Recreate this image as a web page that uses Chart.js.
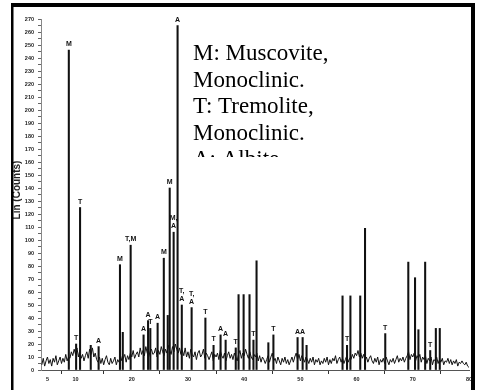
<!DOCTYPE html>
<html>
<head>
<meta charset="utf-8">
<script src="https://cdn.jsdelivr.net/npm/chart.js@4/dist/chart.umd.min.js"></script>
<style>
  html, body { margin: 0; padding: 0; background: #fff; }
  #wrap { position: relative; width: 477px; height: 390px; }
</style>
</head>
<body>
<div id="wrap"><canvas id="xrd" width="477" height="390"></canvas></div>
<script>
// measured scan, sampled every 0.25 deg 2-theta from 4 to 80
const twoThetaStart = 4;
const twoThetaStep = 0.25;
const backgroundCounts = [
  4, 9, 3, 7, 10, 5, 8, 3, 9, 6, 11, 4, 7, 10, 5, 9, 6, 12, 7, 10,
  9, 14, 11, 16, 12, 17, 10, 15, 9, 12, 7, 11, 14, 9, 16, 12, 17, 10, 13, 8,
  6, 10, 5, 9, 4, 8, 11, 6, 4, 9, 5, 7, 10, 4, 8, 6, 11, 7, 9, 12,
  6, 11, 8, 13, 10, 15, 9, 12, 14, 10, 17, 12, 15, 11, 18, 13, 10, 14, 16, 12,
  13, 17, 10, 15, 12, 18, 14, 11, 16, 13, 19, 15, 12, 18, 14, 20, 16, 13, 17, 12,
  15, 11, 17, 10, 14, 9, 16, 12, 10, 14, 8, 13, 15, 10, 12, 16, 9, 13, 11, 8,
  11, 14, 7, 12, 10, 13, 8, 15, 11, 9, 13, 7, 11, 14, 9, 12, 8, 13, 10, 7,
  12, 15, 9, 13, 11, 16, 12, 9, 14, 10, 8, 12, 10, 13, 7, 11, 6, 10, 8, 5,
  8, 11, 6, 10, 13, 7, 9, 5, 10, 7, 4, 9, 6, 10, 5, 8, 4, 7, 10, 6,
  10, 13, 8, 12, 7, 11, 9, 6, 10, 8, 5, 9, 6, 10, 4, 8, 6, 9, 4, 7,
  5, 9, 6, 10, 4, 8, 5, 9, 7, 11, 5, 8, 10, 6, 9, 5, 8, 11, 6, 9,
  8, 12, 9, 13, 11, 15, 10, 13, 9, 12, 7, 10, 6, 9, 11, 7, 5, 9, 6, 10,
  4, 8, 6, 9, 5, 10, 7, 4, 8, 6, 9, 5, 8, 11, 6, 9, 7, 10, 6, 9,
  11, 14, 8, 12, 10, 13, 7, 11, 9, 12, 6, 10, 8, 11, 5, 9, 7, 10, 4, 8,
  7, 10, 5, 8, 6, 9, 4, 7, 6, 9, 5, 8, 4, 7, 5, 8, 3, 6, 5, 7,
  5, 4, 6, 3, 2,
];

// reflections
const peakAngles = [
  8.8, 10.1, 10.8, 12.7, 14.1, 17.9, 18.4, 19.8, 22.1, 22.9,
  23.3, 24.6, 25.7, 26.4, 26.75, 27.45, 28.15, 28.9, 30.65, 33.1,
  34.55, 35.8, 36.7, 38.5, 39.0, 39.9, 40.95, 41.65, 42.2, 44.3,
  45.2, 49.5, 50.4, 51.1, 57.5, 58.3, 58.9, 60.65, 61.5, 65.1,
  69.2, 70.4, 71.0, 72.2, 73.1, 74.1, 74.8,
];
const peakCounts = [
  246, 20, 125, 19, 18, 81, 29, 96, 27, 38,
  32, 36, 86, 42, 140, 106, 265, 50, 48, 40,
  19, 27, 23, 17, 58, 58, 58, 23, 84, 21,
  27, 25, 25, 19, 57, 19, 57, 57, 109, 28,
  83, 71, 31, 83, 15, 32, 32,
];
const peakLabels = [
  "M", "T", "T", "", "A", "M", "", "T,M", "A", "A",
  "T", "A", "M", "", "M", "M,\nA", "A", "T,\nA", "T,\nA", "T",
  "T", "A", "A", "T", "", "", "", "T", "", "",
  "T", "A", "A", "", "", "T", "", "", "", "T",
  "", "", "", "", "T", "", "",
];

const xTickValues = [5, 10, 20, 30, 40, 50, 60, 70, 80];
const legendLines = ["M: Muscovite,", "Monoclinic.", "T: Tremolite,", "Monoclinic.", "A: Albite"];

const noisePoints = backgroundCounts.map((c, i) => ({ x: twoThetaStart + i * twoThetaStep, y: c }));
const peakPoints = peakAngles.map((a, i) => ({ x: a, y: peakCounts[i] }));

const decorPlugin = {
  id: "decor",
  afterDatasetsDraw(chart) {
    const { ctx } = chart;
    const xs = chart.scales.x;
    const ys = chart.scales.y;
    ctx.save();
    ctx.fillStyle = "#111";
    ctx.font = "bold 7px 'Liberation Sans', Arial, sans-serif";
    ctx.textAlign = "center";
    ctx.textBaseline = "alphabetic";
    peakLabels.forEach((label, i) => {
      if (!label) return;
      const lines = label.split("\n");
      const px = xs.getPixelForValue(peakAngles[i]);
      let py = ys.getPixelForValue(peakCounts[i]) - 4;
      for (let k = lines.length - 1; k >= 0; k--) {
        ctx.fillText(lines[k], px, py);
        py -= 8;
      }
    });

    // y axis title
    ctx.translate(17.5, 190);
    ctx.rotate(-Math.PI / 2);
    ctx.font = "bold 10px 'Liberation Sans', Arial, sans-serif";
    ctx.textBaseline = "middle";
    ctx.fillStyle = "#222";
    ctx.fillText("Lin (Counts)", 0, 0);
    ctx.restore();
  },
  afterDraw(chart) {
    const { ctx } = chart;
    ctx.save();
    // frame of the scanned figure
    ctx.fillStyle = "#000";
    ctx.fillRect(11, 3, 464, 4);
    ctx.fillRect(11, 3, 2.5, 387);
    ctx.fillRect(471, 3, 4, 387);

    // phase key, cut off at the bottom like the original box
    ctx.beginPath();
    ctx.rect(185, 8, 286, 149);
    ctx.clip();
    ctx.fillStyle = "#000";
    ctx.font = "23px 'Liberation Serif', 'Times New Roman', serif";
    ctx.textAlign = "left";
    ctx.textBaseline = "alphabetic";
    legendLines.forEach((line, k) => {
      ctx.fillText(line, 193, 60 + k * 26.5);
    });
    ctx.restore();
  },
};

new Chart(document.getElementById("xrd"), {
  type: "bar",
  data: {
    datasets: [
      {
        type: "line",
        data: noisePoints,
        borderColor: "#111",
        borderWidth: 1,
        pointRadius: 0,
        tension: 0,
        order: 1,
      },
      {
        type: "bar",
        data: peakPoints,
        backgroundColor: "#111",
        barThickness: 1.4,
        order: 2,
      },
    ],
  },
  options: {
    responsive: false,
    animation: false,
    layout: { padding: { top: 19, right: 8, bottom: 6, left: 0 } },
    plugins: {
      legend: { display: false },
      tooltip: { enabled: false },
    },
    scales: {
      x: {
        type: "linear",
        min: 3.85,
        max: 80,
        offset: false,
        grid: { drawOnChartArea: false, tickLength: 4, color: "#333" },
        border: { display: true, color: "#555" },
        ticks: {
          color: "#222",
          font: { size: 5.5, weight: "bold" },
          padding: 2,
          maxRotation: 0,
        },
        afterBuildTicks: (scale) => {
          scale.ticks = xTickValues.map((v) => ({ value: v }));
        },
        afterFit: (scale) => {
          scale.height = 14;
        },
      },
      y: {
        min: 0,
        max: 270,
        grid: { drawOnChartArea: false, tickLength: 3, color: "#666" },
        border: { display: true, color: "#888" },
        ticks: {
          stepSize: 5,
          autoSkip: false,
          color: "#222",
          font: { size: 5.5, weight: "bold" },
          padding: 4,
          callback: (v) => (v % 10 === 0 ? v : ""),
        },
        afterFit: (scale) => {
          scale.width = 41;
        },
      },
    },
  },
  plugins: [decorPlugin],
});
</script>
</body>
</html>
